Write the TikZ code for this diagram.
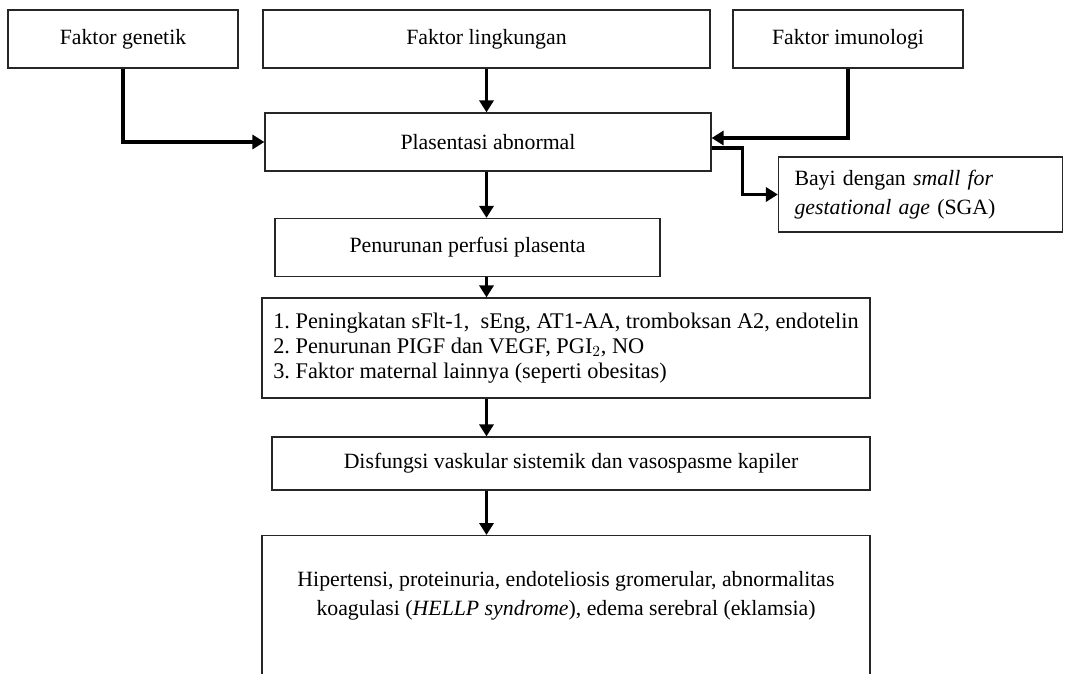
\documentclass[tikz,border=0pt]{standalone}
\usepackage{fontspec}
\setmainfont{Liberation Serif}
\usetikzlibrary{arrows.meta, positioning}

\begin{document}
\begin{tikzpicture}[
    box/.style={draw=black!85, line width=0.9pt, align=center, font=\fontsize{15.5}{19}\selectfont, inner sep=0pt},
    factorbox/.style={box, minimum height=1.45cm},
    stepbox/.style={box, minimum height=1.45cm},
    listbox/.style={box, align=left, minimum width=15.2cm, minimum height=2.5cm, font=\fontsize{15.9}{18}\selectfont},
    sgabox/.style={box, align=left, text width=6.3cm, inner xsep=0.4cm, minimum height=1.875cm, font=\fontsize{15.5}{20.5}\selectfont},
    outcomebox/.style={box, anchor=north, minimum width=15.2cm, inner ysep=0.9cm, text depth=3cm, font=\fontsize{15.5}{20.5}\selectfont},
    arrow/.style={-{Triangle[width=10pt,length=8.5pt]}, line width=2.6pt, black}
]
    \useasboundingbox (0,0) rectangle (27.275,-16.825);
    \clip (0,0) rectangle (27.275,-16.825);

    % Three factors on top.
    \node[factorbox, minimum width=5.75cm]   (genetik)    at (3.075, -0.975)   {Faktor genetik};
    \node[factorbox, minimum width=11.175cm] (lingkungan) at (12.1625, -0.975) {Faktor lingkungan};
    \node[factorbox, minimum width=5.75cm]   (imunologi)  at (21.2, -0.975)    {Faktor imunologi};

    \node[stepbox, minimum width=11.15cm] (plasentasi) at (12.2, -3.55) {Plasentasi abnormal};
    \node[sgabox] (sga) at (23.0125, -4.8625) {Bayi dengan \textit{small for}\\\textit{gestational age} (SGA)};
    \node[stepbox, minimum width=9.625cm] (penurunan) at (11.6875, -6.1875) {Penurunan perfusi plasenta};

    \node[listbox] (mediator) at (14.15, -8.7) {1.\ Peningkatan sFlt-1,\ \ sEng, AT1-AA, tromboksan A2, endotelin\\2.\ Penurunan PIGF dan VEGF, PGI$_2$, NO\\3.\ Faktor maternal lainnya (seperti obesitas)};
    \node[box, minimum width=14.95cm, minimum height=1.325cm] (disfungsi) at (14.275, -11.5875) {Disfungsi vaskular sistemik dan vasospasme kapiler};
    \node[outcomebox] (hipertensi) at (14.15, -13.375) {Hipertensi, proteinuria, endoteliosis gromerular, abnormalitas\\koagulasi (\textit{HELLP syndrome}), edema serebral (eklamsia)};

    % Connectors into the placenta box.
    \draw[arrow] (genetik.south) |- (plasentasi.west);
    \draw[arrow] (lingkungan.south) -- (plasentasi.north -| lingkungan.south);
    \draw[arrow] (imunologi.south) |- ([yshift=0.1cm]plasentasi.east);
    \draw[arrow] ([yshift=-0.15cm]plasentasi.east) -- ++(0.775,0) |- (sga.west);

    % Main chain downwards.
    \draw[arrow] (plasentasi.south -| lingkungan.south) -- (penurunan.north -| lingkungan.south);
    \draw[arrow] (penurunan.south -| lingkungan.south) -- (mediator.north -| lingkungan.south);
    \draw[arrow] (mediator.south -| lingkungan.south) -- (disfungsi.north -| lingkungan.south);
    \draw[arrow] (disfungsi.south -| lingkungan.south) -- (hipertensi.north -| lingkungan.south);

\end{tikzpicture}
\end{document}
